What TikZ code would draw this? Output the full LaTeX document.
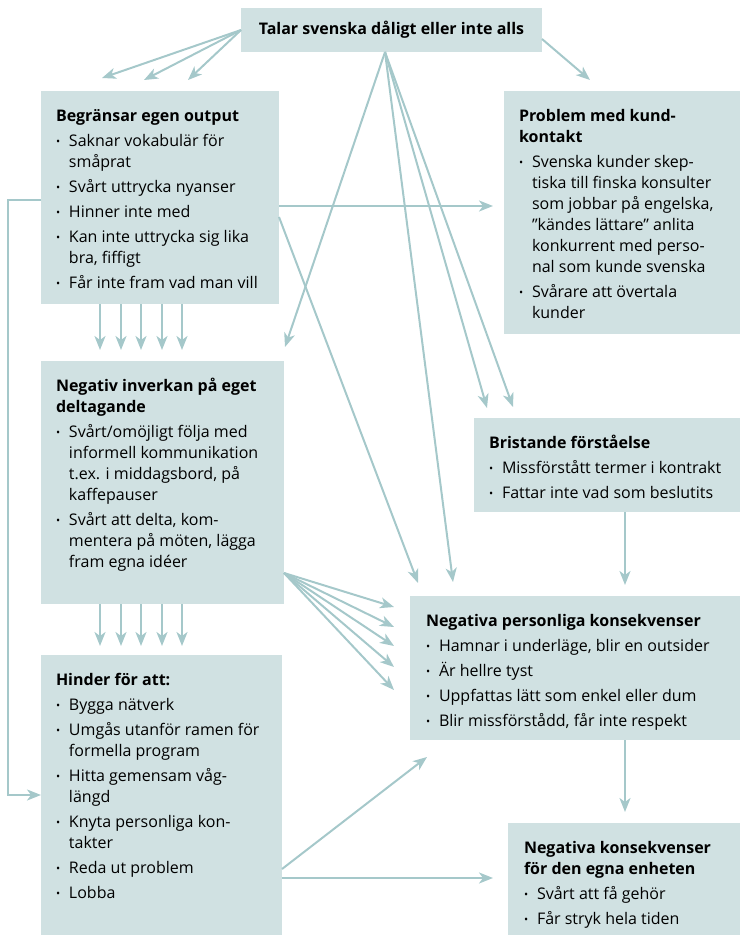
\documentclass[tikz,border=0pt]{standalone}
\usepackage{fontspec}
\setmainfont{Open Sans}
\usetikzlibrary{arrows.meta}
\definecolor{mteal}{RGB}{165,200,202}
\definecolor{mbox}{RGB}{208,225,226}
\tikzset{box/.style = {fill=mbox, anchor=north west, inner xsep=15pt, inner ysep=0pt, outer sep=0pt}}
\tikzset{conn/.style = {draw=mteal, line width=2pt, -{Stealth[length=14pt, width=11pt, inset=4pt]}}}
\newcommand{\boxtext}[3]{\begin{minipage}[t][#2][t]{#1}\raggedright\fontsize{16}{21}\selectfont #3\end{minipage}}
\newcommand{\boxtitle}[1]{\noindent\rule{0pt}{30pt}\textbf{#1}\par}
\newcommand{\itm}[1]{\par\vspace{4pt}\hangindent=13pt\hangafter=1\noindent\makebox[13pt][l]{\raisebox{0.5pt}{\fontsize{11}{11}\selectfont •}}#1\par}

\begin{document}
\begin{tikzpicture}[x=1pt, y=-1pt]
      \useasboundingbox (0, 0) rectangle (740, 935);

      \node [box, minimum width=301pt, minimum height=44pt, inner sep=0] (talar) at (241, 8)
        {\fontsize{16}{21}\selectfont\bfseries Talar svenska dåligt eller inte alls};

      \node [box] (output) at (41, 91) {\boxtext{208pt}{213pt}{%
        \boxtitle{Begränsar egen output}
        \itm{Saknar vokabulär för\newline småprat}
        \itm{Svårt uttrycka nyanser}
        \itm{Hinner inte med}
        \itm{Kan inte uttrycka sig lika\newline bra, fiffigt}
        \itm{Får inte fram vad man vill}}};

      \node [box] (kund) at (504, 91) {\boxtext{206pt}{243pt}{%
        \boxtitle{Problem med kund-\\kontakt}
        \itm{Svenska kunder skep-\newline tiska till finska konsulter\newline som jobbar på engelska,\newline ”kändes lättare” anlita\newline konkurrent med perso-\newline nal som kunde svenska}
        \itm{Svårare att övertala\newline kunder}}};

      \node [box] (delta) at (41, 361) {\boxtext{213pt}{243pt}{%
        \boxtitle{Negativ inverkan på eget\\deltagande}
        \itm{Svårt/omöjligt följa med\newline informell kommunikation\newline t.ex. i middagsbord, på\newline kaffepauser}
        \itm{Svårt att delta, kom-\newline mentera på möten, lägga\newline fram egna idéer}}};

      \node [box] (brist) at (474, 418) {\boxtext{236pt}{94pt}{%
        \boxtitle{Bristande förståelse}
        \itm{Missförstått termer i kontrakt}
        \itm{Fattar inte vad som beslutits}}};

      \node [box, inner xsep=16pt] (pers) at (410, 596) {\boxtext{298pt}{144pt}{%
        \boxtitle{Negativa personliga konsekvenser}
        \itm{Hamnar i underläge, blir en outsider}
        \itm{Är hellre tyst}
        \itm{Uppfattas lätt som enkel eller dum}
        \itm{Blir missförstådd, får inte respekt}}};

      \node [box] (hinder) at (41, 655) {\boxtext{211pt}{280pt}{%
        \boxtitle{Hinder för att:}
        \itm{Bygga nätverk}
        \itm{Umgås utanför ramen för\newline formella program}
        \itm{Hitta gemensam våg-\newline längd}
        \itm{Knyta personliga kon-\newline takter}
        \itm{Reda ut problem}
        \itm{Lobba}}};

      \node [box, inner xsep=16pt] (enhet) at (508, 823) {\boxtext{200pt}{112pt}{%
        \boxtitle{Negativa konsekvenser\\för den egna enheten}
        \itm{Svårt att få gehör}
        \itm{Får stryk hela tiden}}};

      \coordinate (t1) at (102, 78);
      \coordinate (t2) at (144, 80);
      \coordinate (t3) at (188, 80);
      \coordinate (t4) at (590, 80);
      \coordinate (t5) at (285, 347);
      \coordinate (t6) at (453, 582);
      \coordinate (t7) at (487, 408);
      \coordinate (t8) at (513, 407);
      \coordinate (t9) at (493, 206);
      \coordinate (t10) at (418, 583);
      \coordinate (t11) at (625, 585);
      \coordinate (t12) at (625, 812);
      \coordinate (t13) at (427, 757);
      \coordinate (t14) at (493, 878);
      \coordinate (ts) at ([xshift=-6.5pt]talar.south);
      \coordinate (ds) at ([yshift=31pt]delta.south east);

      \foreach \t in {t1, t2, t3} {
        \draw [conn] (talar.west) -- (\t);
      }
      \draw [conn] ([yshift=-9pt]talar.east) -- (t4);
      \foreach \t in {t5, t6, t7, t8} {
        \draw [conn] (ts) -- (\t);
      }

      \draw [conn] ([yshift=-8.5pt]output.east) -- (t9);
      \draw [conn] ([yshift=-19.5pt]output.east) -- (t10);
      \draw [conn] ([yshift=-2.5pt]output.west) -- ++(-33, 0) |- (hinder.west);

      \foreach \x in {59, 80, 100, 121, 141} {
        \draw [conn] ([xshift=\x]output.south west) -- ++(0, 46);
        \draw [conn] ([xshift=\x]delta.south west) -- ++(0, 42);
      }

      \foreach \y in {607, 627, 646, 667, 690} {
        \draw [conn] (ds) -- (394, \y);
      }

      \draw [conn] ([xshift=18pt]brist.south) -- (t11);
      \draw [conn] ([xshift=50pt]pers.south) -- (t12);
      \draw [conn] ([yshift=-74pt]hinder.east) -- (t13);
      \draw [conn] ([yshift=-83pt]hinder.east) -- (t14);
    \end{tikzpicture}
\end{document}
